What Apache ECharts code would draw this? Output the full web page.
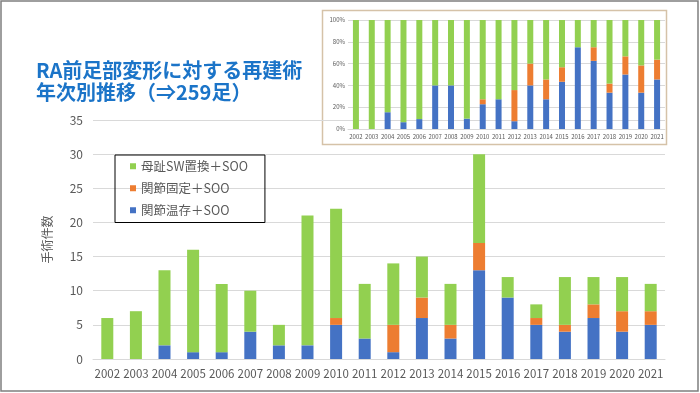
<!DOCTYPE html>
<html>
<head>
<meta charset="utf-8">
<script src="https://cdn.jsdelivr.net/npm/echarts@6/dist/echarts.min.js"></script>
<style>
html,body{margin:0;padding:0;background:#fff;}
#c{width:700px;height:393px;}
</style>
</head>
<body>
<div id="c"></div>
<script>
const years = ['2002','2003','2004','2005','2006','2007','2008','2009','2010','2011','2012','2013','2014','2015','2016','2017','2018','2019','2020','2021'];
const preserve = [0,0,2,1,1,4,2,2,5,3,1,6,3,13,9,5,4,6,4,5];   // 関節温存＋SOO
const fusion   = [0,0,0,0,0,0,0,0,1,0,4,3,2,4,0,1,1,2,3,2];   // 関節固定＋SOO
const swap     = [6,7,11,15,10,6,3,19,16,8,9,6,6,13,3,2,7,4,5,4]; // 母趾SW置換＋SOO
const yTicks = [0,5,10,15,20,25,30,35];
const pctTicks = [0,20,40,60,80,100];
const names = ['関節温存＋SOO','関節固定＋SOO','母趾SW置換＋SOO'];
const colors = ['#4472C4','#ED7D31','#92D050'];
const titleText = 'RA前足部変形に対する再建術\n年次別推移（⇒259足）';
const yName = '手術件数';

const totals = years.map((_, i) => preserve[i] + fusion[i] + swap[i]);
const pct = arr => arr.map((v, i) => totals[i] ? v / totals[i] * 100 : 0);

const FONT = '"Noto Sans CJK JP", "Noto Sans", sans-serif';
const chart = echarts.init(document.getElementById('c'), null, {renderer: 'canvas'});

const series = [];
[preserve, fusion, swap].forEach((arr, k) => {
  series.push({
    name: names[k], type: 'bar', stack: 'main', data: arr,
    xAxisIndex: 0, yAxisIndex: 0, barWidth: 12,
    itemStyle: {color: colors[k]}, emphasis: {disabled: true}
  });
  series.push({
    name: names[k], type: 'bar', stack: 'pct', data: pct(arr),
    xAxisIndex: 1, yAxisIndex: 1, barWidth: 6,
    itemStyle: {color: colors[k]}, emphasis: {disabled: true}
  });
});

chart.setOption({
  animation: false,
  textStyle: {fontFamily: FONT},
  title: {
    text: titleText, left: 31, top: 54,
    textStyle: {color: '#1B74C8', fontSize: 20, fontWeight: 'bold', lineHeight: 22, fontFamily: FONT}
  },
  graphic: [
    {type: 'rect', shape: {x: 1, y: 1, width: 697, height: 390}, style: {fill: 'none', stroke: '#7f7f7f', lineWidth: 1.5}, z: -10},
    {type: 'rect', shape: {x: 322.5, y: 10.5, width: 344, height: 134}, style: {fill: '#fff', stroke: '#D5C2A8', lineWidth: 1.5}, z: -5}
  ],
  legend: {
    data: [names[2], names[1], names[0]],
    orient: 'vertical', left: 115, top: 155,
    borderColor: '#000', borderWidth: 1,
    padding: [5, 17, 6, 15],
    itemWidth: 6, itemHeight: 6, itemGap: 9.5, icon: 'rect',
    textStyle: {color: '#595959', fontSize: 12.5, fontFamily: FONT}
  },
  grid: [
    {left: 93, right: 35, top: 120, bottom: 34},
    {left: 348, right: 35, top: 20, bottom: 264}
  ],
  xAxis: [
    {type: 'category', data: years, gridIndex: 0,
     axisLine: {lineStyle: {color: '#d9d9d9'}}, axisTick: {show: false},
     axisLabel: {color: '#595959', fontSize: 11.5, interval: 0, margin: 9}},
    {type: 'category', data: years, gridIndex: 1,
     axisLine: {lineStyle: {color: '#d9d9d9'}}, axisTick: {show: false},
     axisLabel: {color: '#595959', fontSize: 6, interval: 0, margin: 5}}
  ],
  yAxis: [
    {type: 'value', gridIndex: 0, min: yTicks[0], max: yTicks[yTicks.length-1], interval: 5,
     name: yName, nameLocation: 'middle', nameRotate: 90, nameGap: 40,
     nameTextStyle: {color: '#595959', fontSize: 12},
     axisLine: {show: false}, axisTick: {show: false},
     axisLabel: {color: '#595959', fontSize: 12, margin: 10},
     splitLine: {lineStyle: {color: '#d9d9d9'}}},
    {type: 'value', gridIndex: 1, min: pctTicks[0], max: pctTicks[pctTicks.length-1], interval: 20,
     axisLine: {show: false}, axisTick: {show: false},
     axisLabel: {color: '#595959', fontSize: 6, margin: 3, formatter: '{value}%'},
     splitLine: {lineStyle: {color: '#d9d9d9'}}}
  ],
  series: series
});
</script>
</body>
</html>
